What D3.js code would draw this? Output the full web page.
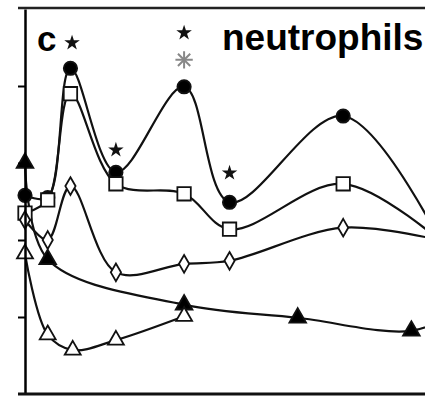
<!DOCTYPE html>
<html>
<head>
<meta charset="utf-8">
<script src="https://cdn.jsdelivr.net/npm/d3@7"></script>
<style>
    body { margin: 0; background: #fff; }
    svg { display: block; font-family: "Liberation Sans", Arial, sans-serif; }
</style>
</head>
<body>
<div class="container"></div>
<script>
const WIDTH = 425;
const HEIGHT = 396;

// time points and values per series (y in axis units, 0..5)
var circleT = [0, 1, 2, 4, 7, 9, 14, 18.5];
var circleV = [2.58, 2.55, 4.23, 2.88, 3.99, 2.49, 3.61, 1.85];

var squareT = [0, 1, 2, 4, 7, 9, 14, 18.5];
var squareV = [2.35, 2.52, 3.90, 2.73, 2.60, 2.14, 2.73, 1.93];

var diamondT = [0, 1, 2, 4, 7, 9, 14, 18.5];
var diamondV = [2.26, 2.00, 2.70, 1.58, 1.69, 1.73, 2.16, 1.98];

var triFilledT = [0, 1, 7, 12, 17, 19];
var triFilledV = [3.00, 1.75, 1.16, 0.99, 0.82, 1.06];

var triOpenT = [0, 1, 2.1, 4, 7];
var triOpenV = [1.82, 0.77, 0.57, 0.70, 1.01];

// significance marks
var starT = [2.07, 4, 7, 9];
var starV = [4.56, 3.17, 4.69, 2.87];
var asteriskT = [7];
var asteriskV = [4.34];

var yTicks = [1, 2, 3, 4];

var _xScale = d3.scaleLinear().domain([0, 17.6]).range([25, 425]);
var _yScale = d3.scaleLinear().domain([0, 5]).range([394, 9]);

var _svg;

var zip = function (ts, vs) {
    return ts.map(function (t, i) { return {t: t, v: vs[i]}; });
};

var series = [
    {data: zip(circleT, circleV), symbol: d3.symbolCircle, size: 140, fill: '#000'},
    {data: zip(squareT, squareV), symbol: d3.symbolSquare, size: 180, fill: '#fff'},
    {data: zip(diamondT, diamondV), symbol: d3.symbolDiamond, size: 90, fill: '#fff'},
    {data: zip(triFilledT, triFilledV), symbol: d3.symbolTriangle, size: 120, fill: '#000'},
    {data: zip(triOpenT, triOpenV), symbol: d3.symbolTriangle, size: 110, fill: '#fff'}
];

var createSvg = function () {
    _svg = d3.select('.container').append('svg').attr('width', WIDTH).attr('height', HEIGHT);
};

var drawAxis = function () {
    var yAxis = d3.axisLeft(_yScale).tickValues(yTicks).tickSize(7).tickSizeOuter(0).tickFormat('');
    var gy = _svg.append('g').attr('transform', 'translate(25,0)').call(yAxis);
    gy.select('.domain').attr('stroke-width', 2.5);
    gy.selectAll('.tick line').attr('stroke-width', 2);

    _svg.append('line')
        .attr('x1', 18).attr('x2', WIDTH).attr('y1', _yScale(5) - 1).attr('y2', _yScale(5) - 1)
        .attr('stroke', '#222').attr('stroke-width', 2.5);

    _svg.append('line')
        .attr('x1', 18).attr('x2', WIDTH).attr('y1', _yScale(0)).attr('y2', _yScale(0))
        .attr('stroke', '#111').attr('stroke-width', 3);
};

var drawSeries = function () {
    var line = d3.line()
        .x(function (d) { return _xScale(d.t); })
        .y(function (d) { return _yScale(d.v); })
        .curve(d3.curveCatmullRom.alpha(0.5));

    series.forEach(function (s) {
        _svg.append('path')
            .datum(s.data)
            .attr('d', line)
            .attr('fill', 'none')
            .attr('stroke', '#111')
            .attr('stroke-width', 2.2);
    });

    series.forEach(function (s) {
        _svg.append('g').selectAll('path')
            .data(s.data)
            .enter().append('path')
            .attr('transform', function (d) {
                return 'translate(' + _xScale(d.t) + ',' + _yScale(d.v) + ')';
            })
            .attr('d', d3.symbol().type(s.symbol).size(s.size))
            .attr('fill', s.fill)
            .attr('stroke', '#111')
            .attr('stroke-width', 1.8);
    });
};

var drawMarks = function () {
    _svg.append('g').selectAll('path')
        .data(zip(starT, starV))
        .enter().append('path')
        .attr('transform', function (d) {
            return 'translate(' + _xScale(d.t) + ',' + _yScale(d.v) + ')';
        })
        .attr('d', d3.symbol().type(d3.symbolStar).size(75))
        .attr('fill', '#111');

    var ast = _svg.append('g').selectAll('g')
        .data(zip(asteriskT, asteriskV))
        .enter().append('g')
        .attr('transform', function (d) {
            return 'translate(' + _xScale(d.t) + ',' + _yScale(d.v) + ')';
        });
    [d3.symbolPlus, d3.symbolTimes].forEach(function (sym) {
        ast.append('path')
            .attr('d', d3.symbol().type(sym).size(100))
            .attr('fill', 'none')
            .attr('stroke', '#888')
            .attr('stroke-width', 2);
    });
};

var drawLabels = function () {
    _svg.append('text')
        .attr('x', 37).attr('y', 51)
        .attr('font-size', 35).attr('font-weight', 'bold')
        .text('c');

    _svg.append('text')
        .attr('x', 222).attr('y', 50)
        .attr('font-size', 37).attr('font-weight', 'bold')
        .text('neutrophils');
};

window.onload = function () {
    createSvg();
    drawSeries();
    drawAxis();
    drawMarks();
    drawLabels();
};
</script>
</body>
</html>
